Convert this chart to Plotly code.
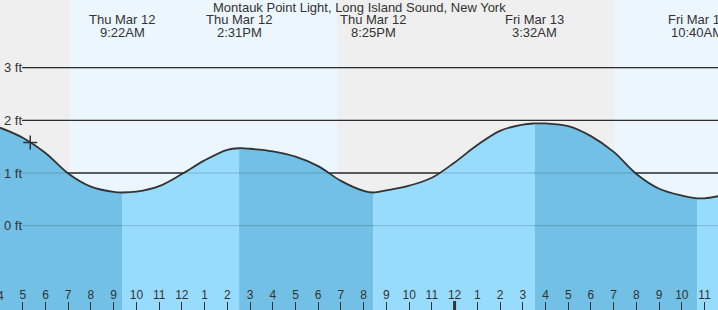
import plotly.graph_objects as go

# ---- data (hours since Thu Mar 12 00:00, height in ft) ----
hours = [4.0, 5.0, 6.0, 7.0, 8.0, 9.0, 9.37, 10.0, 11.0, 12.0, 13.0, 14.0, 14.52, 15.0,
         16.0, 17.0, 18.0, 19.0, 20.0, 20.42, 21.0, 22.0, 23.0, 24.0, 25.0, 26.0, 27.0,
         27.53, 28.0, 29.0, 30.0, 31.0, 32.0, 33.0, 34.0, 34.67, 35.0, 35.6]
heights = [1.86, 1.67, 1.38, 0.99, 0.74, 0.64, 0.63, 0.645, 0.75, 0.98, 1.24, 1.44, 1.47, 1.46,
           1.41, 1.31, 1.13, 0.85, 0.66, 0.63, 0.67, 0.76, 0.91, 1.20, 1.53, 1.80, 1.92,
           1.94, 1.94, 1.89, 1.70, 1.40, 0.98, 0.70, 0.57, 0.52, 0.52, 0.56]

extreme_hours = [9.37, 14.52, 20.42, 27.53, 34.67]
extreme_days = ["Thu Mar 12", "Thu Mar 12", "Thu Mar 12", "Fri Mar 13", "Fri Mar 13"]
extreme_times = ["9:22AM", "2:31PM", "8:25PM", "3:32AM", "10:40AM"]

daylight = [(7.05, 18.84), (31.05, 42.0)]
now_hour, now_height = 5.33, 1.58

tick_hours = list(range(4, 36))
tick_text = [str((h - 1) % 12 + 1) for h in tick_hours]
grid_ft = [0, 1, 2, 3]
title = "Montauk Point Light, Long Island Sound, New York"

X0, X1 = 3.999, 35.59
Y0, Y1 = -1.60, 4.283
NIGHT = "#efefef"
DAY = "#ecf6fe"
DARK = "#72c0e5"
LIGHT = "#97dcfd"
INK = "#333333"

fig = go.Figure()

# fill segments between extremes: falling = dark, rising = light
bounds = [hours[0]] + extreme_hours + [hours[-1]]
for i in range(len(bounds) - 1):
    a, b = bounds[i], bounds[i + 1]
    xs = [h for h in hours if a <= h <= b]
    ys = [heights[hours.index(h)] for h in xs]
    falling = ys[0] > ys[-1]
    fig.add_trace(go.Scatter(x=[xs[0], xs[-1]], y=[Y0 - 1, Y0 - 1], mode="lines",
                             line=dict(width=0), hoverinfo="skip", showlegend=False))
    fig.add_trace(go.Scatter(x=xs, y=ys, mode="lines", line=dict(width=0, shape="spline"),
                             fill="tonexty", fillcolor=DARK if falling else LIGHT,
                             hoverinfo="skip", showlegend=False))

fig.add_trace(go.Scatter(x=hours, y=heights, mode="lines",
                         line=dict(color=INK, width=1.8, shape="spline"),
                         showlegend=False))
fig.add_trace(go.Scatter(x=[now_hour], y=[now_height], mode="markers",
                         marker=dict(symbol="cross-thin", size=10, line=dict(color=INK, width=1.5)),
                         showlegend=False))

shapes = []
for a, b in daylight:
    shapes.append(dict(type="rect", xref="x", yref="paper", x0=a, x1=b, y0=0, y1=1,
                       fillcolor=DAY, line=dict(width=0), layer="below"))
for g in grid_ft:
    shapes.append(dict(type="line", xref="paper", yref="y", x0=22 / 718, x1=1, y0=g, y1=g,
                       line=dict(color=INK, width=1.3), layer="below"))
    shapes.append(dict(type="line", xref="paper", yref="y", x0=22 / 718, x1=1, y0=g, y1=g,
                       line=dict(color="rgba(0,0,0,0.13)", width=1.3), layer="above"))
# midnight marker
shapes.append(dict(type="line", xref="x", yref="paper", x0=24, x1=24, y0=0, y1=9 / 310,
                   line=dict(color=INK, width=3)))
fig.update_layout(shapes=shapes)

ann = [dict(text=title, xref="paper", yref="paper", x=0.5, y=1 - 7.5 / 310, showarrow=False,
            font=dict(size=13, color=INK), xanchor="center", yanchor="middle")]
for h, d, t in zip(extreme_hours, extreme_days, extreme_times):
    ann.append(dict(text=d, x=h, xref="x", yref="paper", y=1 - 20 / 310, showarrow=False,
                    font=dict(size=13, color=INK), xanchor="center", yanchor="middle"))
    ann.append(dict(text=t, x=h, xref="x", yref="paper", y=1 - 32.5 / 310, showarrow=False,
                    font=dict(size=13, color=INK), xanchor="center", yanchor="middle"))
for g in grid_ft:
    ann.append(dict(text=f"{g} ft", xref="paper", yref="y", x=2 / 718, y=g, showarrow=False,
                    font=dict(size=13, color=INK), xanchor="left", yanchor="middle"))
# first hour label sits on the left edge (plotly hides overflowing inside tick labels)
ann.append(dict(text=tick_text[0], x=tick_hours[0], xref="x", yref="paper", y=14 / 310,
                showarrow=False, font=dict(size=12, color=INK), xanchor="center",
                yanchor="middle"))
fig.update_layout(annotations=ann)

fig.update_layout(
    width=718, height=310, margin=dict(l=0, r=0, t=0, b=0),
    paper_bgcolor=NIGHT, plot_bgcolor=NIGHT,
    font=dict(family="Liberation Sans, Arial, sans-serif", color=INK),
    xaxis=dict(range=[X0, X1], showgrid=False, zeroline=False, tickmode="array",
               tickvals=tick_hours, ticktext=tick_text, ticks="inside", ticklen=8,
               tickcolor=INK, tickwidth=1, ticklabelposition="inside",
               tickfont=dict(size=12, color=INK), showline=False),
    yaxis=dict(range=[Y0, Y1], showgrid=False, zeroline=False, showticklabels=False),
)

fig.write_html("out.html")
